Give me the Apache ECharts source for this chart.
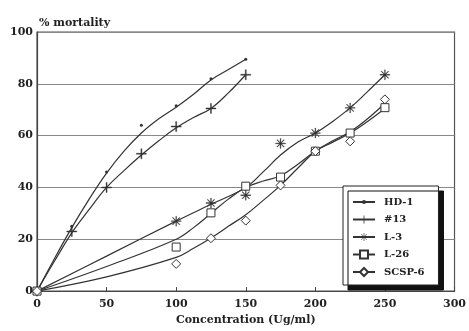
<!DOCTYPE html>
<html><head><meta charset="utf-8">
<script src="https://cdn.jsdelivr.net/npm/echarts@6/dist/echarts.min.js"></script>
<style>html,body{margin:0;padding:0;background:#fff}#c{width:469px;height:331px}</style>
</head><body><div id="c"></div>
<script>
const seriesNames = ['HD-1', '#13', 'L-3', 'L-26', 'SCSP-6'];
// measured points (markers)
const hd1 = [[0,0],[25,25],[50,46],[75,64],[100,71.5],[125,82],[150,89.5]];
const n13 = [[0,0],[25,23],[50,40],[75,53],[100,63.5],[125,70.5],[150,83.5]];
const l3 = [[0,0],[100,27],[125,34],[150,37],[175,57],[200,61],[225,70.7],[250,83.5]];
const l26 = [[0,0],[100,17],[125,30.2],[150,40.5],[175,44],[200,54],[225,61],[250,70.8]];
const scsp6 = [[0,0],[100,10.5],[125,20.4],[150,27.2],[175,40.8],[200,54],[225,57.8],[250,74]];
// fitted curves
const hd1Fit = [[0,0],[12.5,12.5],[25,24.5],[37.5,35.5],[50,45.5],[62.5,54],[75,61],[87.5,66.5],[100,71],[112.5,76],[125,81.5],[137.5,85.5],[150,89.5]];
const n13Fit = [[0,0],[12.5,11.5],[25,22.5],[37.5,31.5],[50,40],[62.5,46.5],[75,52.5],[87.5,58],[100,63],[112.5,67],[125,70.5],[137.5,76.5],[150,83.5]];
const l3Fit = [[0,0],[50,13.5],[100,27],[125,33.5],[150,40],[162.5,46],[175,52.5],[187.5,57.5],[200,61],[212.5,65.5],[225,70.7],[237.5,77],[250,83.5]];
const l26Fit = [[0,0],[50,9.5],[100,20],[112.5,24.5],[125,30],[137.5,35.5],[150,40],[162.5,42.5],[175,44.5],[187.5,49],[200,54],[212.5,57.5],[225,61],[237.5,65.5],[250,70.5]];
const scsp6Fit = [[0,0],[50,5.5],[100,13],[112.5,16.5],[125,20.5],[137.5,25],[150,29.5],[162.5,35],[175,40.8],[187.5,47.5],[200,54],[212.5,58],[225,61.5],[237.5,66.5],[250,72.5]];
const xTicks = [0, 50, 100, 150, 200, 250, 300];
const yTicks = [0, 20, 40, 60, 80, 100];

const FONT = '"DejaVu Serif", serif';
const INK = '#333';
const plus = 'path://M-0.1,-1L0.1,-1L0.1,1L-0.1,1ZM-1,-0.1L1,-0.1L1,0.1L-1,0.1Z';
const star = 'path://M-0.08,-1L0.08,-1L0.08,1L-0.08,1ZM-1,-0.08L1,-0.08L1,0.08L-1,0.08ZM-0.66,-0.76L0.76,0.66L0.66,0.76L-0.76,-0.66ZM0.66,-0.76L0.76,-0.66L-0.66,0.76L-0.76,0.66Z';
const dotSmall = 'path://M-2,-2M2,2M-1,0A1,1,0,1,1,1,0A1,1,0,1,1,-1,0Z';

function curve(name, data, symbol, fill, bw) {
  return {
    name, type: 'line', data, smooth: 0.4, symbol, showSymbol: false,
    lineStyle: { color: INK, width: 1.2 },
    itemStyle: { color: fill, borderColor: INK, borderWidth: bw },
    emphasis: { disabled: true }, silent: true, z: 2
  };
}
function marks(name, data, symbol, size, fill, bw) {
  return {
    name, type: 'scatter', data, symbol, symbolSize: size,
    itemStyle: { color: fill, borderColor: INK, borderWidth: bw, opacity: 1 },
    emphasis: { disabled: true }, silent: true, z: 3
  };
}

const chart = echarts.init(document.getElementById('c'));
chart.setOption({
  animation: false,
  backgroundColor: '#fff',
  grid: { left: 37, top: 32, right: 2, bottom: 35, show: true, borderColor: '#555', borderWidth: 1.2 },
  title: { text: '% mortality', left: 34, top: 13, textStyle: { fontFamily: FONT, fontSize: 11, fontWeight: 'bold', color: '#222' } },
  legend: {
    orient: 'vertical', left: 343, top: 186,
    padding: [11, 14, 8, 9], itemGap: 7.5, itemWidth: 22, itemHeight: 10,
    backgroundColor: '#fff', borderColor: '#222', borderWidth: 1,
    shadowColor: '#111', shadowBlur: 0, shadowOffsetX: 5, shadowOffsetY: 5,
    textStyle: { fontFamily: FONT, fontSize: 10, fontWeight: 'bold', color: '#222', padding: [0, 0, 0, 4] },
    data: seriesNames
  },
  xAxis: {
    type: 'value', min: 0, max: 300, interval: 50,
    name: 'Concentration (Ug/ml)', nameLocation: 'middle', nameGap: 21,
    nameTextStyle: { fontFamily: FONT, fontSize: 11, fontWeight: 'bold', color: '#222' },
    axisLine: { lineStyle: { color: '#444', width: 1.2 } },
    axisTick: { inside: true, length: 4, lineStyle: { color: '#444' } },
    axisLabel: { fontFamily: FONT, fontSize: 11, fontWeight: 'bold', color: '#222', margin: 8,
      formatter: v => xTicks.includes(v) ? String(v) : '' },
    splitLine: { show: false }
  },
  yAxis: {
    type: 'value', min: 0, max: 100, interval: 20,
    axisLine: { show: true, lineStyle: { color: '#444', width: 1.2 } },
    axisTick: { show: false },
    axisLabel: { fontFamily: FONT, fontSize: 11, fontWeight: 'bold', color: '#222', margin: 4,
      formatter: v => yTicks.includes(v) ? String(v) : '' },
    splitLine: { lineStyle: { color: '#888', width: 1 } }
  },
  series: [
    curve('HD-1', hd1Fit, dotSmall, INK, 0),
    curve('#13', n13Fit, plus, INK, 0),
    curve('L-3', l3Fit, star, INK, 0),
    curve('L-26', l26Fit, 'rect', '#fff', 1),
    curve('SCSP-6', scsp6Fit, 'diamond', '#fff', 1),
    marks('HD-1', hd1, 'circle', 3, INK, 0),
    marks('#13', n13, plus, 10, INK, 0.4),
    marks('L-3', l3, star, 10, INK, 0.3),
    marks('L-26', l26, 'rect', 8, '#fff', 1),
    marks('SCSP-6', scsp6, 'diamond', 9, '#fff', 1)
  ]
});
</script></body></html>
